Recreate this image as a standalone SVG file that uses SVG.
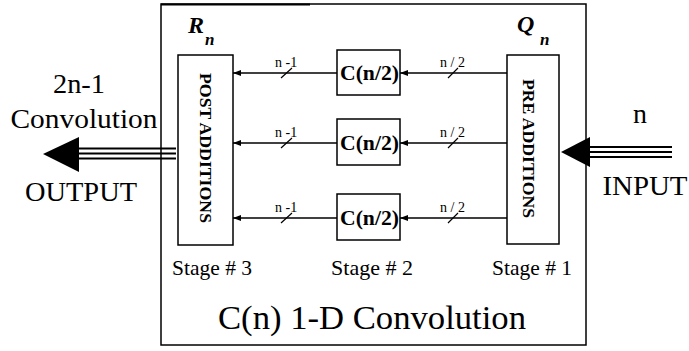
<svg xmlns="http://www.w3.org/2000/svg" width="689" height="351" viewBox="0 0 689 351">
<style>
.t{font-family:"Liberation Serif","DejaVu Serif","Times New Roman",serif;fill:#000}
.box{fill:#fff;stroke:#000;stroke-width:1.5}
.ln{stroke:#000;stroke-width:1.6;fill:none}
.thin{stroke:#000;stroke-width:1.2;fill:none}
.tl{stroke:#000;stroke-width:2;fill:none}
</style>
<defs>
<marker id="ah" viewBox="0 0 8 6" refX="8" refY="3" markerWidth="8" markerHeight="6" markerUnits="userSpaceOnUse" orient="auto">
<path d="M0,0 L8,3 L0,6 Z" fill="#000"/>
</marker>
</defs>
<rect width="689" height="351" fill="#fff"/>
<g id="outer">
<rect x="161" y="4" width="425" height="341" class="box"/>
<line x1="161" y1="4.5" x2="310" y2="4.5" stroke="#000" stroke-width="2"/>
<text x="372" y="329" class="t" font-family="Liberation Serif, DejaVu Serif, serif" font-size="34" text-anchor="middle" textLength="308" lengthAdjust="spacingAndGlyphs">C(n) 1-D Convolution</text>
</g>
<g id="post">
<rect x="178" y="55" width="55" height="190" class="box"/>
<text transform="translate(200,148) rotate(90)" class="t" font-family="Liberation Serif, DejaVu Serif, serif" font-size="16" font-weight="bold" text-anchor="middle" textLength="150" lengthAdjust="spacingAndGlyphs">POST  ADDITIONS</text>
<text x="188" y="33" class="t" font-family="Liberation Serif, DejaVu Serif, serif" font-size="24" font-weight="bold" font-style="italic">R</text>
<text x="205" y="45" class="t" font-family="Liberation Serif, DejaVu Serif, serif" font-size="17" font-weight="bold" font-style="italic">n</text>
<text x="212" y="275" class="t" font-family="Liberation Serif, DejaVu Serif, serif" font-size="21" text-anchor="middle" textLength="80" lengthAdjust="spacingAndGlyphs">Stage # 3</text>
</g>
<g id="pre">
<rect x="507" y="55" width="52" height="189" class="box"/>
<text transform="translate(523,148.5) rotate(90)" class="t" font-family="Liberation Serif, DejaVu Serif, serif" font-size="16" font-weight="bold" text-anchor="middle" textLength="139" lengthAdjust="spacingAndGlyphs">PRE  ADDITIONS</text>
<text x="517" y="32" class="t" font-family="Liberation Serif, DejaVu Serif, serif" font-size="24" font-weight="bold" font-style="italic">Q</text>
<text x="540" y="45" class="t" font-family="Liberation Serif, DejaVu Serif, serif" font-size="17" font-weight="bold" font-style="italic">n</text>
<text x="532" y="275" class="t" font-family="Liberation Serif, DejaVu Serif, serif" font-size="21" text-anchor="middle" textLength="80" lengthAdjust="spacingAndGlyphs">Stage # 1</text>
</g>
<g id="c1">
<rect x="337" y="50" width="63" height="45" class="box"/>
<text x="340" y="80" class="t" font-family="Liberation Serif, DejaVu Serif, serif" font-size="22" font-weight="bold" textLength="59" lengthAdjust="spacingAndGlyphs">C(n/2)</text>
</g>
<g id="c2">
<rect x="337" y="119" width="63" height="46" class="box"/>
<text x="340" y="150" class="t" font-family="Liberation Serif, DejaVu Serif, serif" font-size="22" font-weight="bold" textLength="59" lengthAdjust="spacingAndGlyphs">C(n/2)</text>
</g>
<g id="c3">
<rect x="337" y="194" width="63" height="46" class="box"/>
<text x="340" y="225" class="t" font-family="Liberation Serif, DejaVu Serif, serif" font-size="22" font-weight="bold" textLength="59" lengthAdjust="spacingAndGlyphs">C(n/2)</text>
<text x="372" y="275" class="t" font-family="Liberation Serif, DejaVu Serif, serif" font-size="21" text-anchor="middle" textLength="82" lengthAdjust="spacingAndGlyphs">Stage # 2</text>
</g>
<g id="output">
<text x="79" y="93" class="t" font-family="Liberation Serif, DejaVu Serif, serif" font-size="28" text-anchor="middle" textLength="52" lengthAdjust="spacingAndGlyphs">2n-1</text>
<text x="84" y="128" class="t" font-family="Liberation Serif, DejaVu Serif, serif" font-size="28" text-anchor="middle" textLength="147" lengthAdjust="spacingAndGlyphs">Convolution</text>
<text x="81" y="201" class="t" font-family="Liberation Serif, DejaVu Serif, serif" font-size="28" text-anchor="middle" textLength="112" lengthAdjust="spacingAndGlyphs">OUTPUT</text>
</g>
<g id="input">
<text x="640" y="123" class="t" font-family="Liberation Serif, DejaVu Serif, serif" font-size="28" text-anchor="middle">n</text>
<text x="645" y="195" class="t" font-family="Liberation Serif, DejaVu Serif, serif" font-size="28" text-anchor="middle" textLength="85" lengthAdjust="spacingAndGlyphs">INPUT</text>
</g>
<g id="connectors">
<line x1="337" y1="73" x2="233" y2="73" class="ln" marker-end="url(#ah)"/>
<line x1="337" y1="143" x2="233" y2="143" class="ln" marker-end="url(#ah)"/>
<line x1="337" y1="218" x2="233" y2="218" class="ln" marker-end="url(#ah)"/>
<line x1="507" y1="73" x2="400" y2="73" class="ln" marker-end="url(#ah)"/>
<line x1="507" y1="143" x2="400" y2="143" class="ln" marker-end="url(#ah)"/>
<line x1="507" y1="218" x2="400" y2="218" class="ln" marker-end="url(#ah)"/>
<path d="M281,78 L292,68 M281,148 L292,138 M281,223 L292,213 M448,78 L458,68 M448,148 L458,138 M448,223 L458,213" class="thin"/>
<g class="t" font-family="Liberation Serif, DejaVu Serif, serif" font-size="14">
<text x="275" y="67">n -1</text>
<text x="275" y="137">n -1</text>
<text x="275" y="212">n -1</text>
<text x="440" y="67">n / 2</text>
<text x="440" y="137">n / 2</text>
<text x="440" y="212">n / 2</text>
</g>
<path d="M78,148.5 H176 M78,153.5 H176 M78,158.5 H176" class="tl"/>
<path d="M43,154 L79,137 L79,172 Z" fill="#000"/>
<path d="M589,147 H672 M589,152 H672 M589,157 H672" class="tl"/>
<path d="M561,152 L590,137 L590,167 Z" fill="#000"/>
</g>
</svg>
